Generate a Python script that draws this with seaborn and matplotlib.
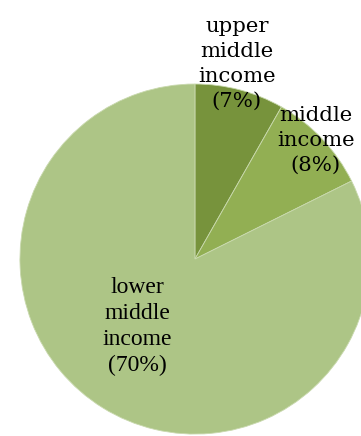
import matplotlib
matplotlib.use("Agg")
import matplotlib.pyplot as plt
import seaborn as sns

sns.set_style("white")

# Income group shares
categories = ["upper\nmiddle\nincome", "middle\nincome", "lower\nmiddle\nincome"]
shares = [7, 8, 70]
colors = ["#77933C", "#92AF53", "#ADC586"]

fig = plt.figure(figsize=(3.61, 4.36), dpi=100)
ax = fig.add_axes([0, 0, 1, 1])

wedges, _ = ax.pie(
    shares,
    colors=colors,
    startangle=90,
    counterclock=False,
    radius=1.0,
    wedgeprops=dict(edgecolor="#C9D9AE", linewidth=0.6),
)

ax.set_xlim(-1.114, 0.949)
ax.set_ylim(-1.011, 1.480)
ax.set_aspect("auto")
ax.axis("off")

labels = [f"{c}\n({v}%)" for c, v in zip(categories, shares)]
ax.text(0.24, 1.114, labels[0], ha="center", va="center",
        family="DejaVu Serif", fontsize=15.3, linespacing=1.4, color="black")
ax.text(0.691, 0.68, labels[1], ha="center", va="center",
        family="DejaVu Serif", fontsize=15.3, linespacing=1.4, color="black")
ax.text(-0.331, -0.385, labels[2], ha="center", va="center",
        family="Liberation Serif", fontsize=17, linespacing=1.32, color="black")

fig.savefig("out.png", dpi=100)
